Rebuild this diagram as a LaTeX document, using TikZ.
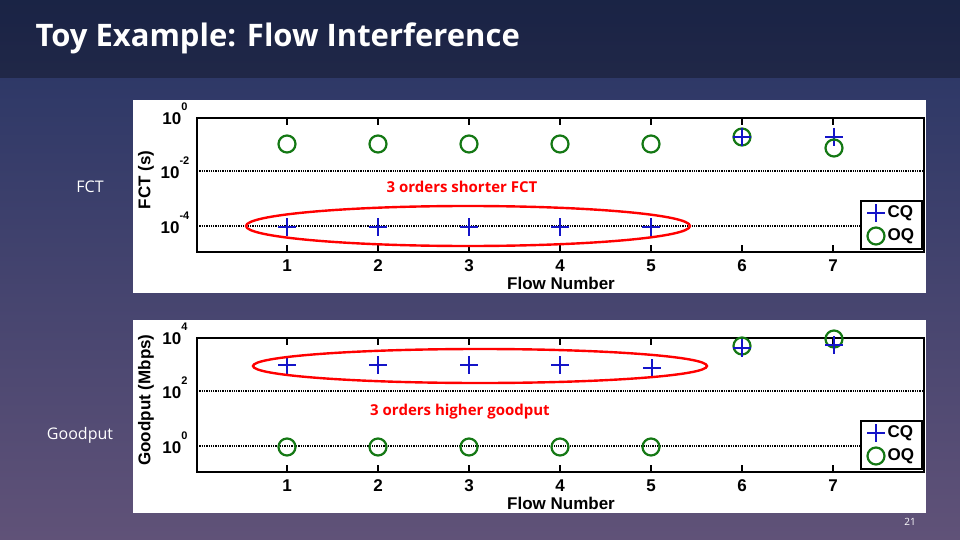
\documentclass[tikz,border=0pt]{standalone}
\usepackage{fontspec}
\setmainfont{Open Sans}
\setsansfont{Liberation Sans}
\usetikzlibrary{positioning,calc}
\definecolor{bgtop}{RGB}{38,52,100}
\definecolor{bgbot}{RGB}{96,82,120}
\definecolor{cqblue}{RGB}{20,20,200}
\definecolor{oqgreen}{RGB}{20,120,20}
\tikzset{
  cqmark/.style={cqblue,line width=2.2pt},
  oqmark/.style={oqgreen,line width=2.2pt},
  ticklab/.style={font=\sffamily\bfseries\fontsize{17}{17}\selectfont},
  grid/.style={densely dotted,line width=1.3pt},
  redring/.style={draw=red,line width=2.4pt},
  whitelab/.style={white,font=\fontsize{16}{18}\selectfont}
}
\newcommand{\cqplus}[2]{\draw[cqmark] (#1-9,#2)--(#1+9,#2) (#1,#2-9)--(#1,#2+9);}
\newcommand{\oqring}[2]{\draw[oqmark] (#1,#2) circle (8.5);}
\newcommand{\panel}[5]{% top, ylabel, top exp, mid exp, low exp
  \fill[white] (133,#1) rectangle (926,#1+193);
  \draw[grid] (197,#1+71) -- (924,#1+71) (197,#1+126) -- (924,#1+126);
  \draw[line width=1.7pt] (197,#1+18) rectangle (924,#1+152);
  \foreach \k [evaluate=\k as \xx using 196+91*\k] in {1,...,7}{
    \draw[line width=1.7pt] (\xx,#1+18)--(\xx,#1+25) (\xx,#1+152)--(\xx,#1+145);
    \node[ticklab] at (\xx,#1+166) {\k};}
  \node[ticklab] at (175,#1+14) {10\raisebox{1.6ex}{\fontsize{11}{11}\selectfont#3}};
  \node[ticklab] at (175,#1+68) {10\raisebox{1.6ex}{\fontsize{11}{11}\selectfont#4}};
  \node[ticklab] at (175,#1+123) {10\raisebox{1.6ex}{\fontsize{11}{11}\selectfont#5}};
  \node[ticklab] at (561,#1+183) {Flow Number};
  \node[ticklab,rotate=90] at (146,#1+80) {#2};
  \draw[line width=1.7pt,fill=white] (861,#1+101) rectangle (922,#1+149);
  \cqplus{876}{#1+113}
  \oqring{876}{#1+136}
  \node[ticklab,anchor=west] at (884,#1+113) {CQ};
  \node[ticklab,anchor=west] at (884,#1+136) {OQ};
}
\begin{document}
\begin{tikzpicture}[x=1pt,y=-1pt]
\useasboundingbox (0,0) rectangle (960,540);
\shade[top color=bgtop,bottom color=bgbot] (0,0) rectangle (960,540);
\fill[black,opacity=0.3] (0,0) rectangle (960,78);
\node[white,anchor=west,font=\bfseries\fontsize{31}{34}\selectfont] (title) at (32,38) {Toy Example: Flow Interference};
% FCT panel
\panel{100}{FCT (s)}{0}{-2}{-4}
\foreach \k in {1,...,5}{\oqring{196+91*\k}{144} \cqplus{196+91*\k}{227}}
\oqring{742}{137} \cqplus{742}{137}
\cqplus{834}{137} \oqring{834}{148}
\draw[redring] (468,226) ellipse (222 and 20);
\node[red,font=\bfseries\fontsize{15}{17}\selectfont] (fctnote) at (462,187) {3 orders shorter FCT};
\node[whitelab] (fctlab) at (90,187) {FCT};
% Goodput panel
\panel{320}{Goodput (Mbps)}{4}{2}{0}
\foreach \k in {1,...,4}{\cqplus{196+91*\k}{365}}
\cqplus{652}{368}
\foreach \k in {1,...,5}{\oqring{196+91*\k}{447}}
\oqring{742}{346} \cqplus{742}{348}
\oqring{834}{339} \cqplus{834}{345}
\draw[redring] (480,366) ellipse (227 and 17);
\node[red,font=\bfseries\fontsize{15}{17}\selectfont] (gpnote) at (460,412) {3 orders higher goodput};
\node[whitelab] (gplab) at (80,435) {Goodput};
\node[white,font=\fontsize{10}{12}\selectfont] (pgno) at (910,522) {21};
\end{tikzpicture}
\end{document}
